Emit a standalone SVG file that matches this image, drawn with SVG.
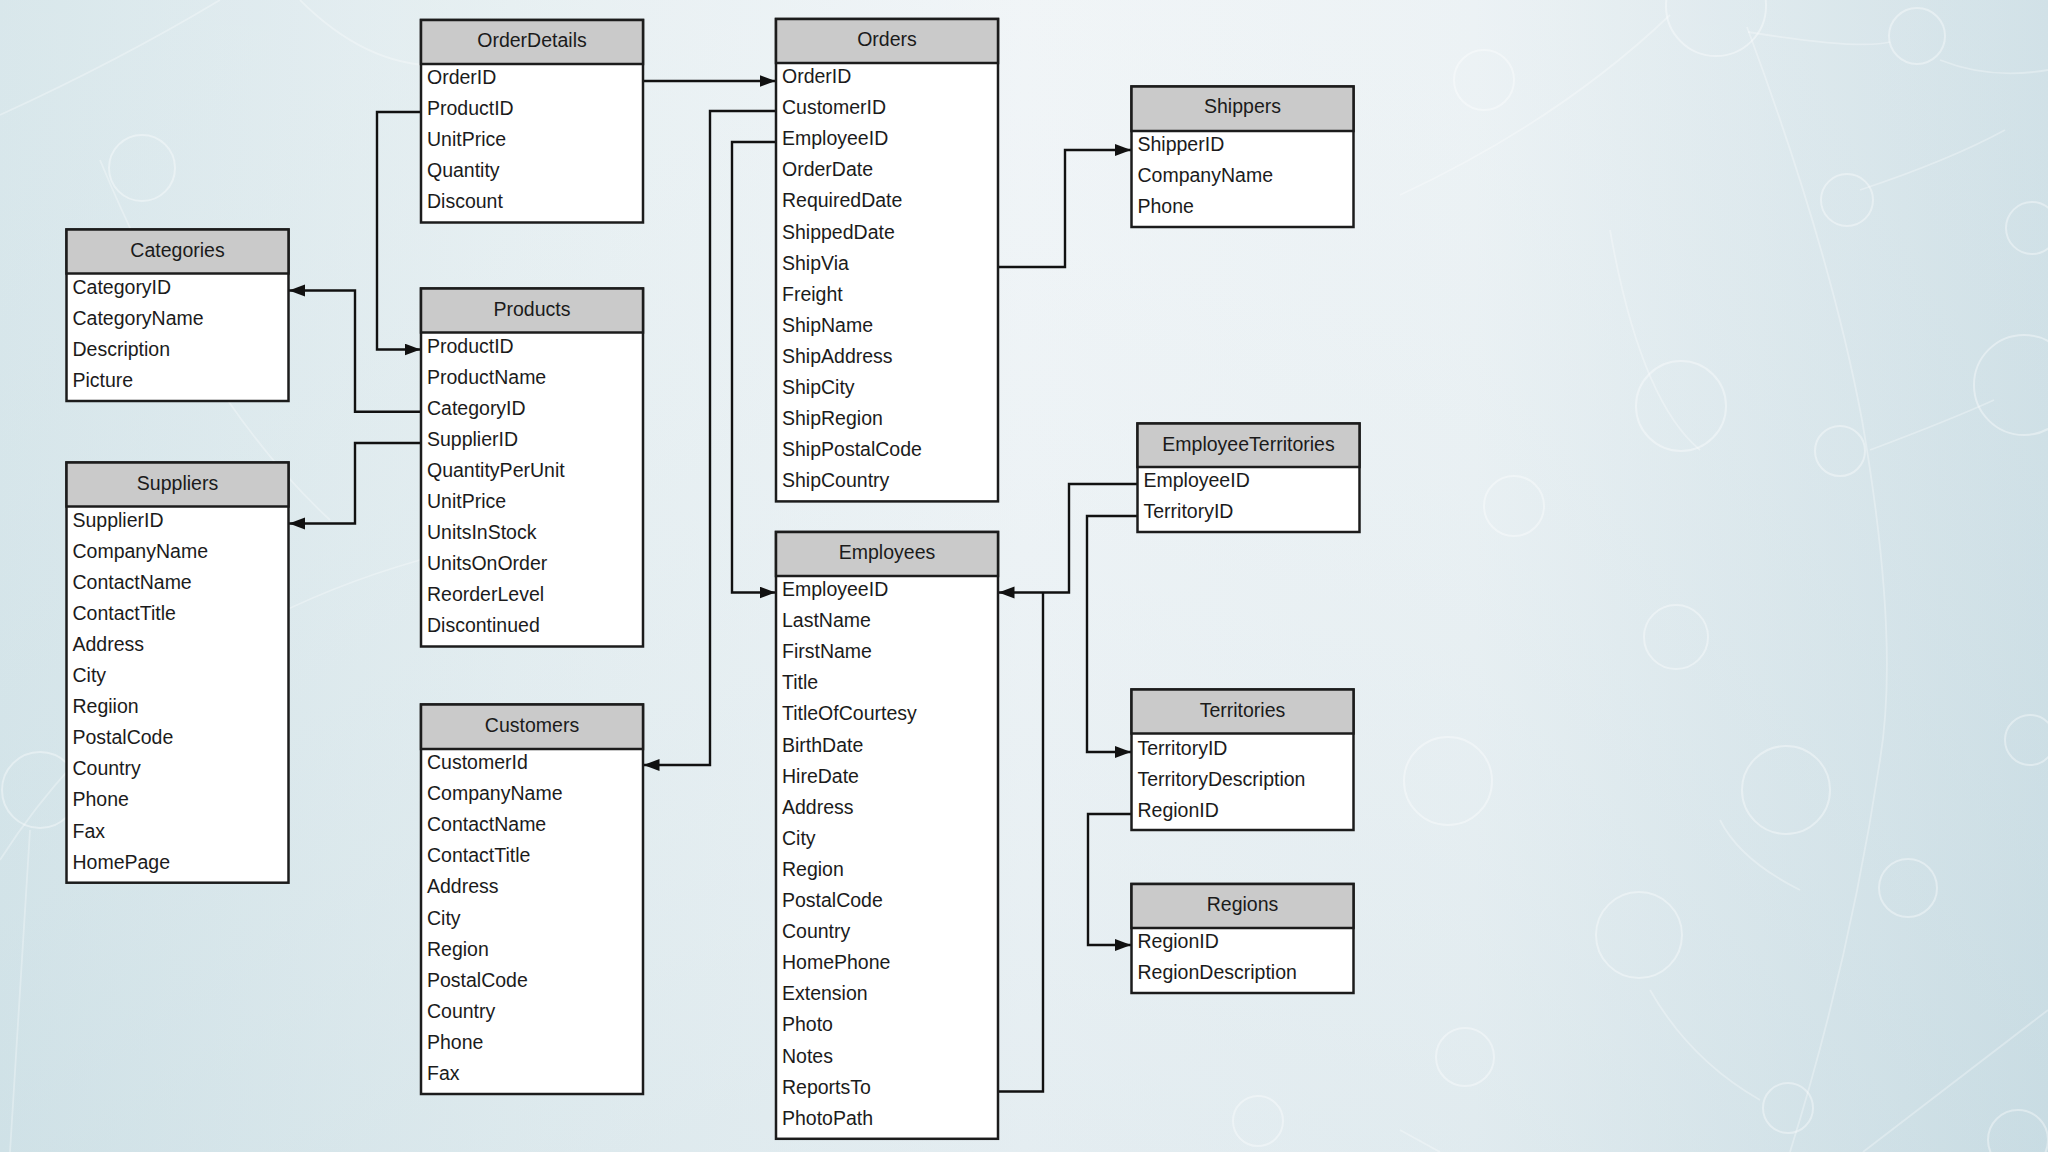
<svg xmlns="http://www.w3.org/2000/svg" width="2048" height="1152" viewBox="0 0 2048 1152">
<defs>
  <linearGradient id="bg" x1="0" y1="0" x2="1" y2="0">
    <stop offset="0" stop-color="#d2e3e8"/>
    <stop offset="0.25" stop-color="#e3edf0"/>
    <stop offset="0.5" stop-color="#eef3f6"/>
    <stop offset="0.72" stop-color="#e9f0f3"/>
    <stop offset="1" stop-color="#c9dce3"/>
  </linearGradient>
  <linearGradient id="bgv" x1="0" y1="0" x2="0" y2="1">
    <stop offset="0" stop-color="#ffffff" stop-opacity="0.15"/>
    <stop offset="1" stop-color="#c6dbe2" stop-opacity="0.25"/>
  </linearGradient>
  <marker id="arr" markerWidth="17" markerHeight="13" refX="16" refY="6" orient="auto" markerUnits="userSpaceOnUse">
    <path d="M0,0 L16,6 L0,12 Z" fill="#111"/>
  </marker>
  <style>
    .box{fill:#ffffff;stroke:#1c1c1c;stroke-width:2.5}
    .hdr{fill:#cacaca;stroke:#1c1c1c;stroke-width:2.5}
    .t{font-family:"Liberation Sans",Arial,sans-serif;font-size:19.5px;fill:#1b1b1b}
    .h{text-anchor:middle}
    .c{fill:none;stroke:#111;stroke-width:2.4}
    .bgc{fill:none;stroke:#ffffff;stroke-opacity:0.38;stroke-width:2}
    .bgl{fill:none;stroke:#ffffff;stroke-opacity:0.3;stroke-width:1.8}
  </style>
</defs>

<g id="background">
  <rect x="0" y="0" width="2048" height="1152" fill="url(#bg)"/>
  <rect x="0" y="0" width="2048" height="1152" fill="url(#bgv)"/>
  <circle class="bgc" cx="142" cy="168" r="33"/>
  <circle class="bgc" cx="40" cy="790" r="38"/>
  <circle class="bgc" cx="1484" cy="80" r="30"/>
  <circle class="bgc" cx="1716" cy="6" r="50"/>
  <circle class="bgc" cx="1917" cy="36" r="28"/>
  <circle class="bgc" cx="1847" cy="200" r="26"/>
  <circle class="bgc" cx="2032" cy="228" r="26"/>
  <circle class="bgc" cx="1681" cy="406" r="45"/>
  <circle class="bgc" cx="1840" cy="451" r="25"/>
  <circle class="bgc" cx="2024" cy="385" r="50"/>
  <circle class="bgc" cx="1514" cy="506" r="30"/>
  <circle class="bgc" cx="1676" cy="637" r="32"/>
  <circle class="bgc" cx="1448" cy="781" r="44"/>
  <circle class="bgc" cx="1786" cy="790" r="44"/>
  <circle class="bgc" cx="1908" cy="888" r="29"/>
  <circle class="bgc" cx="1639" cy="935" r="43"/>
  <circle class="bgc" cx="1465" cy="1057" r="29"/>
  <circle class="bgc" cx="1788" cy="1108" r="25"/>
  <circle class="bgc" cx="2030" cy="740" r="25"/>
  <circle class="bgc" cx="2018" cy="1140" r="30"/>
  <circle class="bgc" cx="1258" cy="1121" r="25"/>
  <path class="bgl" d="M1747,27 Q1830,250 1862,420 Q1900,640 1880,760 Q1850,960 1790,1152"/>
  <path class="bgl" d="M1400,195 Q1560,120 1670,15"/>
  <path class="bgl" d="M1863,1152 L2048,1010"/>
  <path class="bgl" d="M1400,1130 L1440,1152"/>
  <path class="bgl" d="M1748,32 Q1860,50 1890,42 M1940,60 Q1990,80 2048,70 M1860,190 Q1950,160 2005,130 M1870,450 Q1950,420 1994,400"/>
  <path class="bgl" d="M1610,230 Q1640,400 1700,450 M1720,820 Q1740,860 1800,890 M1650,990 Q1690,1060 1760,1100"/>
  <path class="bgl" d="M0,115 Q120,60 220,0 M100,160 Q200,400 330,520 M300,0 Q420,120 560,20"/>
  <path class="bgl" d="M0,860 Q140,640 420,560 M30,830 L10,1152"/>
</g>

<g id="connectors">
  <path class="c" d="M643,81 H775.5" marker-end="url(#arr)"/>
  <path class="c" d="M776,111 H710 V765 H643.5" marker-end="url(#arr)"/>
  <path class="c" d="M776,142 H732 V592.5 H775.5" marker-end="url(#arr)"/>
  <path class="c" d="M998,267 H1065 V150 H1131" marker-end="url(#arr)"/>
  <path class="c" d="M421,112 H377 V349.5 H420.5" marker-end="url(#arr)"/>
  <path class="c" d="M421,411.7 H355 V290.5 H289" marker-end="url(#arr)"/>
  <path class="c" d="M421,443 H355 V523.5 H289" marker-end="url(#arr)"/>
  <path class="c" d="M1137.5,484 H1069 V592.5 H998.5" marker-end="url(#arr)"/>
  <path class="c" d="M998,1091.5 H1043 V592.5"/>
  <path class="c" d="M1137.5,516 H1087 V752 H1131" marker-end="url(#arr)"/>
  <path class="c" d="M1131.5,814 H1088 V945 H1131" marker-end="url(#arr)"/>
</g>

<g id="OrderDetails">
  <rect class="box" x="421" y="20" width="222" height="202.5"/>
  <rect class="hdr" x="421" y="20" width="222" height="44"/>
  <text class="t h" x="532" y="47">OrderDetails</text>
  <text class="t" x="427" y="84">OrderID</text>
  <text class="t" x="427" y="115.1">ProductID</text>
  <text class="t" x="427" y="146.2">UnitPrice</text>
  <text class="t" x="427" y="177.3">Quantity</text>
  <text class="t" x="427" y="208.4">Discount</text>
</g>

<g id="Orders">
  <rect class="box" x="776" y="19" width="222" height="482.4"/>
  <rect class="hdr" x="776" y="19" width="222" height="44"/>
  <text class="t h" x="887" y="46">Orders</text>
  <text class="t" x="782" y="83">OrderID</text>
  <text class="t" x="782" y="114.1">CustomerID</text>
  <text class="t" x="782" y="145.2">EmployeeID</text>
  <text class="t" x="782" y="176.3">OrderDate</text>
  <text class="t" x="782" y="207.4">RequiredDate</text>
  <text class="t" x="782" y="238.5">ShippedDate</text>
  <text class="t" x="782" y="269.6">ShipVia</text>
  <text class="t" x="782" y="300.7">Freight</text>
  <text class="t" x="782" y="331.8">ShipName</text>
  <text class="t" x="782" y="362.9">ShipAddress</text>
  <text class="t" x="782" y="394">ShipCity</text>
  <text class="t" x="782" y="425.1">ShipRegion</text>
  <text class="t" x="782" y="456.2">ShipPostalCode</text>
  <text class="t" x="782" y="487.3">ShipCountry</text>
</g>

<g id="Shippers">
  <rect class="box" x="1131.5" y="86.5" width="222" height="140.5"/>
  <rect class="hdr" x="1131.5" y="86.5" width="222" height="44.5"/>
  <text class="t h" x="1242.5" y="113">Shippers</text>
  <text class="t" x="1137.5" y="151">ShipperID</text>
  <text class="t" x="1137.5" y="182.1">CompanyName</text>
  <text class="t" x="1137.5" y="213.2">Phone</text>
</g>

<g id="Categories">
  <rect class="box" x="66.5" y="229.5" width="222" height="171.5"/>
  <rect class="hdr" x="66.5" y="229.5" width="222" height="44"/>
  <text class="t h" x="177.5" y="256.5">Categories</text>
  <text class="t" x="72.5" y="293.5">CategoryID</text>
  <text class="t" x="72.5" y="324.6">CategoryName</text>
  <text class="t" x="72.5" y="355.7">Description</text>
  <text class="t" x="72.5" y="386.8">Picture</text>
</g>

<g id="Products">
  <rect class="box" x="421" y="288.5" width="222" height="358"/>
  <rect class="hdr" x="421" y="288.5" width="222" height="44"/>
  <text class="t h" x="532" y="315.5">Products</text>
  <text class="t" x="427" y="352.5">ProductID</text>
  <text class="t" x="427" y="383.6">ProductName</text>
  <text class="t" x="427" y="414.7">CategoryID</text>
  <text class="t" x="427" y="445.8">SupplierID</text>
  <text class="t" x="427" y="476.9">QuantityPerUnit</text>
  <text class="t" x="427" y="508">UnitPrice</text>
  <text class="t" x="427" y="539.1">UnitsInStock</text>
  <text class="t" x="427" y="570.2">UnitsOnOrder</text>
  <text class="t" x="427" y="601.3">ReorderLevel</text>
  <text class="t" x="427" y="632.4">Discontinued</text>
</g>

<g id="Suppliers">
  <rect class="box" x="66.5" y="462.5" width="222" height="420.2"/>
  <rect class="hdr" x="66.5" y="462.5" width="222" height="44"/>
  <text class="t h" x="177.5" y="489.5">Suppliers</text>
  <text class="t" x="72.5" y="526.5">SupplierID</text>
  <text class="t" x="72.5" y="557.6">CompanyName</text>
  <text class="t" x="72.5" y="588.7">ContactName</text>
  <text class="t" x="72.5" y="619.8">ContactTitle</text>
  <text class="t" x="72.5" y="650.9">Address</text>
  <text class="t" x="72.5" y="682">City</text>
  <text class="t" x="72.5" y="713.1">Regiion</text>
  <text class="t" x="72.5" y="744.2">PostalCode</text>
  <text class="t" x="72.5" y="775.3">Country</text>
  <text class="t" x="72.5" y="806.4">Phone</text>
  <text class="t" x="72.5" y="837.5">Fax</text>
  <text class="t" x="72.5" y="868.6">HomePage</text>
</g>

<g id="Customers">
  <rect class="box" x="421" y="704.5" width="222" height="389.5"/>
  <rect class="hdr" x="421" y="704.5" width="222" height="44.5"/>
  <text class="t h" x="532" y="731.5">Customers</text>
  <text class="t" x="427" y="769">CustomerId</text>
  <text class="t" x="427" y="800.1">CompanyName</text>
  <text class="t" x="427" y="831.2">ContactName</text>
  <text class="t" x="427" y="862.3">ContactTitle</text>
  <text class="t" x="427" y="893.4">Address</text>
  <text class="t" x="427" y="924.5">City</text>
  <text class="t" x="427" y="955.6">Region</text>
  <text class="t" x="427" y="986.7">PostalCode</text>
  <text class="t" x="427" y="1017.8">Country</text>
  <text class="t" x="427" y="1048.9">Phone</text>
  <text class="t" x="427" y="1080">Fax</text>
</g>

<g id="Employees">
  <rect class="box" x="776" y="532" width="222" height="606.8"/>
  <rect class="hdr" x="776" y="532" width="222" height="44"/>
  <text class="t h" x="887" y="559">Employees</text>
  <text class="t" x="782" y="596">EmployeeID</text>
  <text class="t" x="782" y="627.1">LastName</text>
  <text class="t" x="782" y="658.2">FirstName</text>
  <text class="t" x="782" y="689.3">Title</text>
  <text class="t" x="782" y="720.4">TitleOfCourtesy</text>
  <text class="t" x="782" y="751.5">BirthDate</text>
  <text class="t" x="782" y="782.6">HireDate</text>
  <text class="t" x="782" y="813.7">Address</text>
  <text class="t" x="782" y="844.8">City</text>
  <text class="t" x="782" y="875.9">Region</text>
  <text class="t" x="782" y="907">PostalCode</text>
  <text class="t" x="782" y="938.1">Country</text>
  <text class="t" x="782" y="969.2">HomePhone</text>
  <text class="t" x="782" y="1000.3">Extension</text>
  <text class="t" x="782" y="1031.4">Photo</text>
  <text class="t" x="782" y="1062.5">Notes</text>
  <text class="t" x="782" y="1093.6">ReportsTo</text>
  <text class="t" x="782" y="1124.7">PhotoPath</text>
</g>

<g id="EmployeeTerritories">
  <rect class="box" x="1137.5" y="423.5" width="222" height="108.5"/>
  <rect class="hdr" x="1137.5" y="423.5" width="222" height="43.5"/>
  <text class="t h" x="1248.5" y="450.5">EmployeeTerritories</text>
  <text class="t" x="1143.5" y="487">EmployeeID</text>
  <text class="t" x="1143.5" y="518.1">TerritoryID</text>
</g>

<g id="Territories">
  <rect class="box" x="1131.5" y="689.5" width="222" height="140.5"/>
  <rect class="hdr" x="1131.5" y="689.5" width="222" height="44"/>
  <text class="t h" x="1242.5" y="716.5">Territories</text>
  <text class="t" x="1137.5" y="754.5">TerritoryID</text>
  <text class="t" x="1137.5" y="785.6">TerritoryDescription</text>
  <text class="t" x="1137.5" y="816.7">RegionID</text>
</g>

<g id="Regions">
  <rect class="box" x="1131.5" y="884" width="222" height="109"/>
  <rect class="hdr" x="1131.5" y="884" width="222" height="44"/>
  <text class="t h" x="1242.5" y="911">Regions</text>
  <text class="t" x="1137.5" y="948">RegionID</text>
  <text class="t" x="1137.5" y="979.1">RegionDescription</text>
</g>
</svg>
